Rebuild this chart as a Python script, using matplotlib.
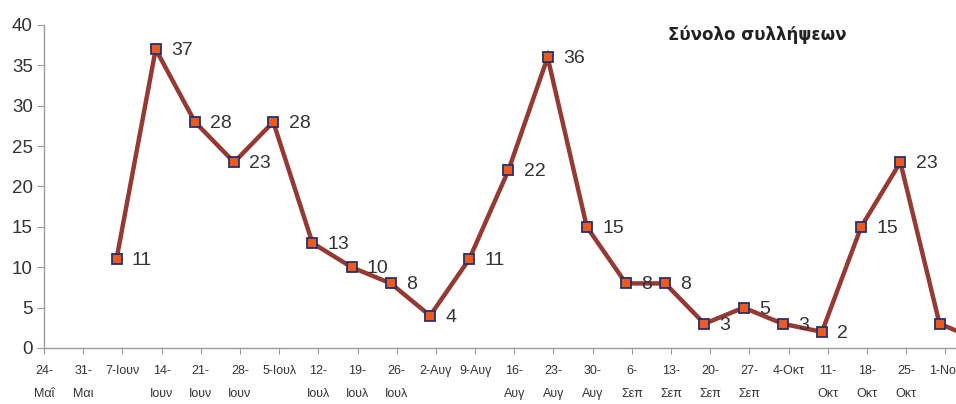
import matplotlib
matplotlib.use("Agg")
import matplotlib.pyplot as plt
from matplotlib import font_manager
import numpy as np

# Weekly totals of arrests
weeks = ["24-\nΜαΐ", "31-\nΜαι", "7-Ιουν", "14-\nΙουν", "21-\nΙουν", "28-\nΙουν",
         "5-Ιουλ", "12-\nΙουλ", "19-\nΙουλ", "26-\nΙουλ", "2-Αυγ", "9-Αυγ",
         "16-\nΑυγ", "23-\nΑυγ", "30-\nΑυγ", "6-\nΣεπ", "13-\nΣεπ", "20-\nΣεπ",
         "27-\nΣεπ", "4-Οκτ", "11-\nΟκτ", "18-\nΟκτ", "25-\nΟκτ", "1-Νοε", "8-Νοε"]
arrests = [None, None, 11, 37, 28, 23, 28, 13, 10, 8, 4, 11, 22, 36, 15, 8, 8,
           3, 5, 3, 2, 15, 23, 3, 1]
title = "Σύνολο συλλήψεων"
y_ticks = [0, 5, 10, 15, 20, 25, 30, 35, 40]

installed = {f.name for f in font_manager.fontManager.ttflist}
narrow = "Liberation Sans Narrow" if "Liberation Sans Narrow" in installed else "Liberation Sans"
plt.rcParams["font.family"] = [narrow, "DejaVu Sans"]

fig = plt.figure(figsize=(9.56, 4.04), dpi=100)
ax = fig.add_axes([44 / 956, 56 / 404, 912 / 956, 323 / 404])

x = np.arange(len(weeks))
y = np.array([np.nan if v is None else v for v in arrests], dtype=float)

ax.plot(x, y, color="#953a32", lw=3.2, zorder=2, solid_joinstyle="miter")
ax.plot(x, y, linestyle="none", marker="s", markersize=7.5,
        markerfacecolor="#ec5a1e", markeredgecolor="#24306e", markeredgewidth=1.3,
        zorder=3)

# value labels only for the weeks whose label fits inside the plotted range
for xi, v in zip(x, arrests):
    if v is None or xi >= 23:
        continue
    ax.annotate(str(v), (xi, v), xytext=(11, -1), textcoords="offset points",
                ha="left", va="center", fontsize=14, color="#333333",
                family=["Liberation Sans", "DejaVu Sans"], zorder=4)

tick_shift = 0.15
ax.set_xlim(tick_shift, 23.42)
ax.set_ylim(0, 40)
ax.set_xticks(x[:24] + tick_shift)
ax.set_xticklabels(weeks[:24], fontsize=9, color="#333333", linespacing=2.3)
ax.set_yticks(y_ticks)
ax.set_yticklabels([str(t) for t in y_ticks], fontsize=13.5, color="#333333")

for side in ("top", "right"):
    ax.spines[side].set_visible(False)
for side in ("left", "bottom"):
    ax.spines[side].set_color("#9a9a9a")
    ax.spines[side].set_linewidth(1.0)
ax.tick_params(axis="x", direction="out", length=4, color="#9a9a9a", pad=8)
ax.tick_params(axis="y", direction="out", length=5, color="#9a9a9a", pad=3)

fig.text(668 / 956, 1 - 35 / 404, title, fontsize=12, fontweight="bold",
         color="#222222", ha="left", va="center",
         family=["DejaVu Sans"])

fig.savefig("out.png", dpi=100)
